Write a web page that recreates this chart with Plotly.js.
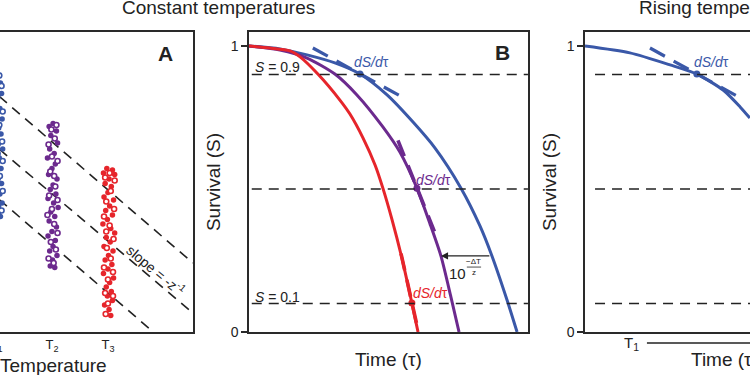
<!DOCTYPE html>
<html>
<head>
<meta charset="utf-8">
<script src="https://cdn.plot.ly/plotly-3.0.1.min.js"></script>
<style>
html,body{margin:0;padding:0;overflow:hidden;background:#fff;width:750px;height:375px;}
#plot{position:absolute;left:-200px;top:0;width:1150px;height:375px;}
</style>
</head>
<body>
<div id="plot"></div>
<script>
// ---------- Panel A : survival-time distributions at constant temperatures ----------
const tempTickVals = [1, 2, 3];
const tempTickText = ['T<sub>1</sub>', 'T<sub>2</sub>', 'T<sub>3</sub>'];

const blueFillX = [1.02,0.95,1.08,0.98,1.10,1.03,0.94,1.07,1.00,1.11,0.96,1.05,1.09,0.99,1.04,1.12,0.97,1.06,1.01,1.09,0.95,1.04,1.10,0.99,1.07,1.02,1.11,0.96,1.05,1.08];
const blueFillY = [8.6,8.45,8.3,8.1,7.95,7.8,7.6,7.45,7.3,7.1,6.95,6.8,6.6,6.45,6.25,6.1,5.95,5.8,5.6,5.45,5.3,5.1,4.95,4.8,4.6,4.45,4.3,4.15,4.0,3.85];
const blueOpenX = [1.06,1.10,1.01,1.12,1.06,1.00,1.11,1.03,1.12,1.07,1.00,1.12,1.04,1.10];
const blueOpenY = [8.55,8.2,7.65,7.35,6.9,6.7,6.35,5.95,5.7,5.2,5.0,4.7,4.2,4.05];

const purpleFillX = [2.02,1.95,2.08,1.98,2.10,1.96,2.04,1.92,2.06,2.00,1.94,2.09,2.02,1.97,2.07,1.93,2.03,2.11,1.98,2.05,1.95,2.08,2.00,1.93,2.06,2.02,1.96,2.09,2.01,1.97,2.05];
const purpleFillY = [6.95,6.85,6.7,6.55,6.3,6.1,5.95,5.8,5.6,5.45,5.25,5.1,4.9,4.75,4.6,4.45,4.3,4.15,4.0,3.85,3.7,3.5,3.35,3.2,3.05,2.85,2.7,2.55,2.4,2.2,2.15];
const purpleOpenX = [2.08,1.99,2.05,1.94,2.00,2.10,1.97,2.04,2.06,1.95,2.10,2.00,1.92,2.04,2.10,1.98,2.07,1.94,2.03];
const purpleOpenY = [6.9,6.75,6.45,6.25,5.85,5.7,5.35,5.2,4.85,4.55,4.4,4.1,3.9,3.6,3.3,3.0,2.75,2.45,2.3];

const redFillX = [2.98,3.08,2.92,3.12,3.02,2.95,3.06,3.00,2.93,3.10,3.03,2.96,3.08,2.99,2.91,3.05,3.12,2.97,3.04,2.93,3.09,3.01,2.95,3.07,3.00,2.92,3.10,3.03,2.97,3.06,2.99,3.08,2.94,3.02,3.05];
const redFillY = [5.45,5.4,5.3,5.25,5.1,4.95,4.85,4.65,4.5,4.4,4.2,4.05,3.9,3.75,3.6,3.45,3.3,3.15,3.0,2.85,2.7,2.55,2.4,2.25,2.1,1.95,1.8,1.65,1.5,1.35,1.2,1.05,0.9,0.75,0.55];
const redOpenX = [3.03,2.95,3.12,3.05,2.97,3.11,2.93,3.03,2.97,3.10,2.98,3.05,2.93,3.09,3.00,2.95,3.09,3.00,2.96];
const redOpenY = [5.3,5.15,5.05,4.7,4.35,4.1,3.85,3.55,3.35,3.1,2.8,2.45,2.15,2.0,1.75,1.3,1.2,0.95,0.6];

// iso-lines of slope -1/z
const isoLine1X = [0.6, 4.518], isoLine1Y = [8.59, 2.3];
const isoLine2X = [0.6, 4.518], isoLine2Y = [6.82, 0.633];
const isoLine3X = [0.6, 3.81],  isoLine3Y = [5.15, 0.0];

// ---------- Panel B : survival curves at constant temperatures ----------
const redT    = [0, 0.75, 1.47, 1.83, 2.47, 3.26, 3.62, 4.09, 4.52, 4.80, 5.13, 5.48, 5.84, 6.06];
const redS    = [1.0, 0.993, 0.983, 0.962, 0.902, 0.811, 0.762, 0.678, 0.584, 0.503, 0.392, 0.259, 0.101, 0];
const purpleT = [0, 1.11, 2.08, 3.08, 3.87, 4.80, 5.41, 6.02, 6.49, 6.88, 7.24, 7.53];
const purpleS = [1.0, 0.986, 0.958, 0.902, 0.829, 0.717, 0.629, 0.503, 0.378, 0.266, 0.122, 0];
const blueT   = [0, 1.11, 2.08, 3.08, 3.98, 4.95, 5.88, 6.67, 7.60, 8.28, 8.71, 9.25, 9.61];
const blueS   = [1.0, 0.990, 0.969, 0.941, 0.902, 0.829, 0.734, 0.643, 0.503, 0.371, 0.266, 0.112, 0];

const thresholds = [0.9, 0.5, 0.1];

// tangent points (dS/dτ) and tangent segments
const blueDot = [3.98, 0.902], purpleDot = [6.02, 0.503], redDot = [5.84, 0.101];
const blueTanT = [2.29, 5.52],   blueTanS = [0.993, 0.820];
const purpleTanT = [5.34, 6.74], purpleTanS = [0.670, 0.329];
const redTanT = [5.45, 6.02],    redTanS = [0.274, 0.0245];

// shift arrow between blue and purple curves
const shiftS = 0.266, shiftFromT = 8.67, shiftToT = 6.88;

// ---------- Panel C : rising temperatures ----------
const riseT = [0, 1.61, 3.05, 4.01, 4.95, 5.56, 5.91];
const riseS = [1.0, 0.976, 0.934, 0.902, 0.846, 0.787, 0.748];
const riseDot = [4.01, 0.902];
const riseTanT = [2.33, 5.56], riseTanS = [0.993, 0.819];

// ---------- styles ----------
const BLUE = '#3a58a8', PURPLE = '#6c2a8e', RED = '#e6252b', INK = '#222';
const FONT = 'Arial, "Liberation Sans", sans-serif';

function cluster(x, y, color, open, xa, ya) {
  return {x: x, y: y, xaxis: xa, yaxis: ya, type: 'scatter', mode: 'markers', hoverinfo: 'skip',
    marker: open ? {size: 5, color: '#fff', line: {color: color, width: 1.6}}
                 : {size: 5.5, color: color, line: {width: 0}}};
}
function curve(x, y, color, xa, ya, width) {
  return {x: x, y: y, xaxis: xa, yaxis: ya, type: 'scatter', mode: 'lines', hoverinfo: 'skip',
    line: {color: color, width: width, shape: 'spline', smoothing: 0.7}};
}
function dot(p, color, xa, ya) {
  return {x: [p[0]], y: [p[1]], xaxis: xa, yaxis: ya, type: 'scatter', mode: 'markers', hoverinfo: 'skip',
    marker: {size: 7, color: color}};
}

const traces = [
  {x: isoLine1X, y: isoLine1Y, xaxis: 'x', yaxis: 'y', mode: 'lines', line: {color: INK, width: 1.6, dash: '10px,7px'}},
  {x: isoLine2X, y: isoLine2Y, xaxis: 'x', yaxis: 'y', mode: 'lines', line: {color: INK, width: 1.6, dash: '10px,7px'}},
  {x: isoLine3X, y: isoLine3Y, xaxis: 'x', yaxis: 'y', mode: 'lines', line: {color: INK, width: 1.6, dash: '10px,7px'}},
  cluster(blueFillX, blueFillY, BLUE, false, 'x', 'y'),
  cluster(blueOpenX, blueOpenY, BLUE, true, 'x', 'y'),
  cluster(purpleFillX, purpleFillY, PURPLE, false, 'x', 'y'),
  cluster(purpleOpenX, purpleOpenY, PURPLE, true, 'x', 'y'),
  cluster(redFillX, redFillY, RED, false, 'x', 'y'),
  cluster(redOpenX, redOpenY, RED, true, 'x', 'y'),

  curve(blueT, blueS, BLUE, 'x2', 'y2', 3),
  curve(purpleT, purpleS, PURPLE, 'x2', 'y2', 3),
  curve(redT, redS, RED, 'x2', 'y2', 3),
  {x: blueTanT, y: blueTanS, xaxis: 'x2', yaxis: 'y2', mode: 'lines', line: {color: BLUE, width: 3.2, dash: '17px,10px'}},
  {x: purpleTanT, y: purpleTanS, xaxis: 'x2', yaxis: 'y2', mode: 'lines', line: {color: PURPLE, width: 3.6, dash: '17px,10px'}},
  {x: redTanT, y: redTanS, xaxis: 'x2', yaxis: 'y2', mode: 'lines', line: {color: RED, width: 3.6, dash: '17px,10px'}},
  dot(blueDot, BLUE, 'x2', 'y2'),
  dot(purpleDot, PURPLE, 'x2', 'y2'),
  dot(redDot, RED, 'x2', 'y2'),

  curve(riseT, riseS, BLUE, 'x3', 'y3', 3),
  {x: riseTanT, y: riseTanS, xaxis: 'x3', yaxis: 'y3', mode: 'lines', line: {color: BLUE, width: 3.2, dash: '17px,10px'}},
  dot(riseDot, BLUE, 'x3', 'y3')
];

const shapes = [];
thresholds.forEach(function (s) {
  shapes.push({type: 'line', xref: 'x2', yref: 'y2', x0: 0.1, x1: 10, y0: s, y1: s,
    line: {color: INK, width: 1.5, dash: '10px,7px'}});
  shapes.push({type: 'line', xref: 'x3', yref: 'y3', x0: 0.36, x1: 10, y0: s, y1: s,
    line: {color: INK, width: 1.5, dash: '10px,7px'}});
});
// fraction bar of 10^(-ΔT/z)
shapes.push({type: 'line', xref: 'x2', yref: 'y2', x0: 7.81, x1: 8.32, y0: 0.227, y1: 0.227, line: {color: INK, width: 0.8}});
// temperature ramp indicator under panel C
shapes.push({type: 'line', xref: 'x3', yref: 'paper', x0: 2.22, x1: 10, y0: 0.0853, y1: 0.0853, line: {color: INK, width: 1.3}});

const ann = [];
function txt(o) {
  o.showarrow = false;
  if (!o.xanchor) o.xanchor = 'center';
  o.yanchor = 'middle';
  o.font = Object.assign({family: FONT, color: INK, size: 12}, o.font || {});
  ann.push(o);
}

txt({xref: 'paper', yref: 'paper', x: 0.3635, y: 0.9787, text: 'Constant temperatures', font: {size: 19}});
txt({xref: 'paper', yref: 'paper', x: 0.8039, y: 0.9787, text: 'Rising temperatures', font: {size: 19}});

// x-axis title of panel A
txt({xref: 'x', yref: 'paper', x: 2.027, y: 0.025, text: 'Temperature', font: {size: 19}});

const LABELFONT = '"Liberation Sans Narrow", "Arial Narrow", Arial, sans-serif';
txt({xref: 'x', yref: 'y', x: 4.036, y: 9.27, text: '<b>A</b>', font: {size: 21, family: LABELFONT}});
txt({xref: 'x2', yref: 'y2', x: 9.10, y: 0.979, text: '<b>B</b>', font: {size: 21, family: LABELFONT}});
txt({xref: 'x', yref: 'y', x: 3.857, y: 2.07, text: 'slope = -z<sup>-1</sup>', textangle: 40, font: {size: 14}});

txt({xref: 'x2', yref: 'y2', x: 0.14, y: 0.927, text: '<i>S</i> = 0.9', xanchor: 'left', font: {size: 14}});
txt({xref: 'x2', yref: 'y2', x: 0.14, y: 0.124, text: '<i>S</i> = 0.1', xanchor: 'left', font: {size: 14}});

txt({xref: 'x2', yref: 'y2', x: 4.41, y: 0.944, text: '<i>dS/d</i>τ', font: {size: 14, color: BLUE}});
txt({xref: 'x2', yref: 'y2', x: 6.63, y: 0.533, text: '<i>dS/d</i>τ', font: {size: 14, color: PURPLE}});
txt({xref: 'x2', yref: 'y2', x: 6.49, y: 0.138, text: '<i>dS/d</i>τ', font: {size: 14, color: RED}});
txt({xref: 'x3', yref: 'y3', x: 4.55, y: 0.944, text: '<i>dS/d</i>τ', font: {size: 14, color: BLUE}});

txt({xref: 'x2', yref: 'y2', x: 7.49, y: 0.204, text: '10', font: {size: 15}});
txt({xref: 'x2', yref: 'y2', x: 8.06, y: 0.246, text: '−ΔT', font: {size: 8}});
txt({xref: 'x2', yref: 'y2', x: 8.06, y: 0.209, text: 'z', font: {size: 8}});

ann.push({xref: 'x2', yref: 'y2', axref: 'x2', ayref: 'y2', x: shiftToT, y: shiftS, ax: shiftFromT, ay: shiftS,
  text: '', showarrow: true, arrowhead: 2, arrowsize: 1.1, arrowwidth: 1.3, arrowcolor: INK});

txt({xref: 'x3', yref: 'paper', x: 1.68, y: 0.083, text: 'T<sub>1</sub>', font: {size: 15}});

const axLine = {showline: true, mirror: true, linecolor: '#2a2a2a', linewidth: 1.6, showgrid: false, zeroline: false};
const yDom = [0.1147, 0.9147];
const survY = function (anchor) {
  return Object.assign({}, axLine, {domain: yDom, anchor: anchor, range: [0, 1.049], tickvals: [0, 1], ticktext: ['0', '1'],
    ticks: 'outside', ticklen: 6, tickwidth: 1.4, tickcolor: '#2a2a2a', tickfont: {family: FONT, size: 14, color: INK},
    title: {text: 'Survival (S)', font: {family: FONT, size: 19, color: INK}, standoff: 5}});
};
const timeX = function (dom, anchor) {
  return Object.assign({}, axLine, {domain: dom, anchor: anchor, range: [0, 10], showticklabels: false, ticks: '',
    title: {text: 'Time (τ)', font: {family: FONT, size: 19, color: INK}, standoff: 20}});
};

const layout = {
  width: 1150, height: 375, margin: {l: 0, r: 0, t: 0, b: 0}, showlegend: false,
  paper_bgcolor: '#fff', plot_bgcolor: '#fff', font: {family: FONT, color: INK},
  xaxis: Object.assign({}, axLine, {domain: [0.0991, 0.3417], anchor: 'y', range: [-0.464, 4.518],
    tickvals: tempTickVals, ticktext: tempTickText, ticks: '', tickfont: {family: FONT, size: 13, color: INK}}),
  yaxis: Object.assign({}, axLine, {domain: yDom, anchor: 'x', range: [0, 10], showticklabels: false, ticks: ''}),
  xaxis2: timeX([0.3904, 0.6330], 'y2'),
  yaxis2: survY('x2'),
  xaxis3: timeX([0.6826, 0.9252], 'y3'),
  yaxis3: survY('x3'),
  shapes: shapes,
  annotations: ann
};

Plotly.newPlot('plot', traces, layout, {staticPlot: true, displayModeBar: false});
</script>
</body>
</html>
